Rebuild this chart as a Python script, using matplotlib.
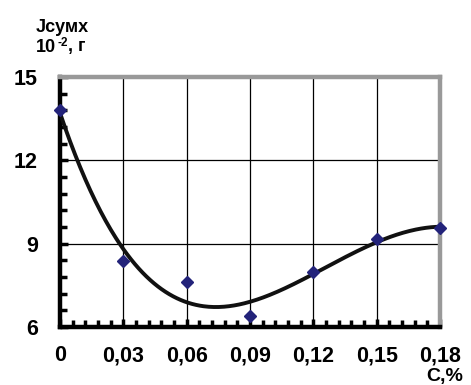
import numpy as np
import matplotlib
matplotlib.use("Agg")
import matplotlib.pyplot as plt
from matplotlib.ticker import MultipleLocator

plt.rcParams['font.family'] = ['Liberation Sans', 'DejaVu Sans']

x_vals = [0.0, 0.03, 0.06, 0.09, 0.12, 0.15, 0.18]
y_vals = [13.8, 8.38, 7.62, 6.38, 7.97, 9.16, 9.57]
x_labels = ['0', '0,03', '0,06', '0,09', '0,12', '0,15', '0,18']
y_ticks = [6, 9, 12, 15]

W, H = 471, 385
fig = plt.figure(figsize=(W/100, H/100), dpi=100)
ax = fig.add_axes([60/W, 1-327/H, 380/W, 250/H])

# polynomial trendline computed from data
coef = np.polyfit(x_vals, y_vals, 4)
xs = np.linspace(0, 0.18, 300)
ax.plot(xs, np.polyval(coef, xs), color='#111111', lw=2.8, zorder=3)
ax.plot(x_vals, y_vals, linestyle='none', marker='D', color='#23237a',
        markersize=6.5, zorder=4, clip_on=False)

ax.set_xlim(0, 0.18)
ax.set_ylim(6, 15)
ax.set_xticks(x_vals)
ax.set_xticklabels(x_labels)
ax.set_yticks(y_ticks)
ax.xaxis.set_minor_locator(MultipleLocator(0.006))
ax.yaxis.set_minor_locator(MultipleLocator(0.6))
ax.grid(True, which='major', color='black', lw=0.9)
ax.tick_params(which='major', direction='in', length=6, width=2.5, color='black',
               labelsize=15.5)
ax.tick_params(which='minor', direction='in', length=5, width=2.5, color='black')
ax.tick_params(axis='x', pad=13)
ax.tick_params(axis='y', pad=16)
for lab in ax.get_xticklabels() + ax.get_yticklabels():
    lab.set_fontweight('bold')

for s in ['left', 'bottom']:
    ax.spines[s].set_linewidth(3.2)
    ax.spines[s].set_color('black')
for s in ['top', 'right']:
    ax.spines[s].set_linewidth(3.2)
    ax.spines[s].set_color('#999999')

fs = 13
fig.text(36/W, 1-27/H, 'Jсумх', fontsize=fs, fontweight='bold', va='center', ha='left')
r = fig.canvas.get_renderer()
t1 = fig.text(36/W, 1-47/H, '10', fontsize=fs, fontweight='bold', va='center', ha='left')
bb = t1.get_window_extent(r)
t2 = fig.text((bb.x1 + 1)/W, 1-43/H, '-2', fontsize=8.5, fontweight='bold', va='center', ha='left')
bb2 = t2.get_window_extent(r)
fig.text(bb2.x1/W, 1-47/H, ', г', fontsize=fs, fontweight='bold', va='center', ha='left')
fig.text(463/W, 0.5/H, 'С,%', fontsize=14, fontweight='bold', va='bottom', ha='right')

fig.savefig('out.png', dpi=100)
